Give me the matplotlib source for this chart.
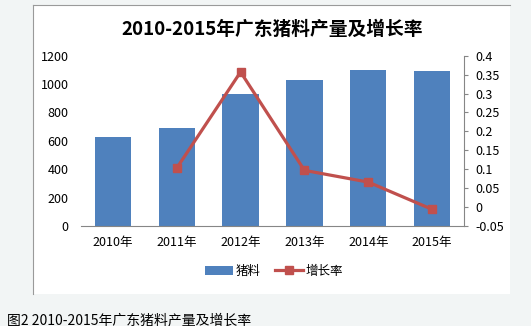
import numpy as np
import matplotlib.pyplot as plt
from matplotlib.patches import Rectangle
from matplotlib.lines import Line2D
from matplotlib.ticker import FuncFormatter

plt.rcParams['font.family'] = ['Noto Sans CJK SC', 'DejaVu Sans']

years = ['2010年', '2011年', '2012年', '2013年', '2014年', '2015年']
feed = [627, 694, 933, 1030, 1101, 1094]
growth = [np.nan, 0.103, 0.357, 0.097, 0.066, -0.006]

W, H = 531, 326
fig = plt.figure(figsize=(W / 100, H / 100), dpi=100)
fig.patch.set_facecolor('#f2f5f5')

# white chart box with grey left/top border
fig.patches.append(Rectangle((33 / W, 1 - 294 / H), (510 - 33) / W, (294 - 5) / H,
                             transform=fig.transFigure, facecolor='white',
                             edgecolor='none', zorder=-5))
fig.lines.append(Line2D([33 / W, 33 / W], [1 - 294 / H, 1 - 5 / H],
                        transform=fig.transFigure, color='#9a9a9a', lw=0.8, zorder=-4))
fig.lines.append(Line2D([33 / W, 510 / W], [1 - 5 / H, 1 - 5 / H],
                        transform=fig.transFigure, color='#9a9a9a', lw=0.8, zorder=-4))

ax = fig.add_axes([81 / W, 1 - 226 / H, (464 - 81) / W, (226 - 55.7) / H])
ax.set_facecolor('none')
x = np.arange(len(years))
bars = ax.bar(x, feed, width=0.567, color='#4f81bd', label='猪料')
ax.set_xlim(-0.5, len(years) - 0.5)
ax.set_ylim(0, 1200)
ax.set_yticks(np.arange(0, 1201, 200))
ax.set_xticks(x)
ax.set_xticklabels(years)
ax.tick_params(axis='y', length=0, pad=9, labelsize=9, colors='black')
ax.tick_params(axis='x', length=0, pad=7, labelsize=9)
for s in ['left', 'top', 'right']:
    ax.spines[s].set_visible(False)
ax.spines['bottom'].set_color('#868686')

ax2 = ax.twinx()
line, = ax2.plot(x, growth, color='#c0504d', lw=2.3, marker='s', markersize=5.5,
                 label='增长率')
ax2.set_ylim(-0.05, 0.4)
ax2.set_yticks(np.arange(-0.05, 0.401, 0.05))
ax2.yaxis.set_major_formatter(FuncFormatter(lambda v, p: f'{round(v, 2):g}'))
ax2.tick_params(axis='y', length=3, pad=5, labelsize=9, color='#868686', direction='out')
for s in ['left', 'top', 'bottom']:
    ax2.spines[s].set_visible(False)
ax2.spines['right'].set_color('#868686')

fig.text(272 / W, 1 - 29 / H, '2010-2015年广东猪料产量及增长率', ha='center', va='center',
         fontsize=13.5, fontweight='bold')

fig.legend([bars, line], ['猪料', '增长率'], loc='center', bbox_to_anchor=(274 / W, 1 - 271 / H),
           ncol=2, frameon=False, fontsize=9, handlelength=2.2, handletextpad=0.2,
           columnspacing=1.2)

fig.text(7 / W, 1 - 320 / H, '图2 2010-2015年广东猪料产量及增长率', ha='left', va='center',
         fontsize=10)

fig.savefig('out.png', dpi=100, facecolor=fig.get_facecolor())
